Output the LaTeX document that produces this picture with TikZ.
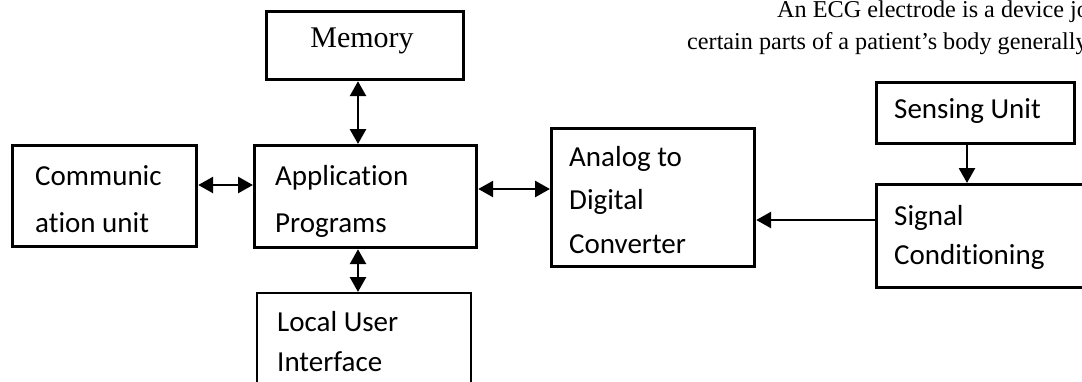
\documentclass[tikz,border=0pt]{standalone}
\usepackage{fontspec}
\setmainfont{Liberation Serif}
\newfontfamily\calib[Ligatures=NoCommon]{Carlito}
\usetikzlibrary{arrows.meta}
\tikzset{
  box/.style={draw, line width=3.2pt, inner sep=0pt, anchor=north west},
  thinbox/.style={draw, line width=2.2pt, inner sep=0pt, anchor=north west},
  lbl/.style={anchor=base west, inner sep=0pt, font=\calib\fontsize{29}{35}\selectfont},
  serif/.style={anchor=base west, inner sep=0pt, font=\fontsize{24.2}{30}\selectfont},
  conn/.style={line width=2.8pt, {Triangle[length=15pt,width=16pt]}-{Triangle[length=15pt,width=16pt]}},
  oneway/.style={line width=2.8pt, -{Triangle[length=15pt,width=16pt]}}
}
\begin{document}
\begin{tikzpicture}[x=1pt,y=-1pt]
\useasboundingbox (0,0) rectangle (1082,381);
\clip (0,0) rectangle (1082,381);
\fill[white] (0,0) rectangle (1082,381);
% boxes
\node[box, minimum width=197pt, minimum height=68pt] (mem) at (265,10) {};
\node[box, minimum width=184pt, minimum height=101pt] (com) at (11,144) {};
\node[box, minimum width=222pt, minimum height=102pt] (app) at (253,144) {};
\node[box, minimum width=203pt, minimum height=138pt] (adc) at (550,127) {};
\node[box, minimum width=198pt, minimum height=61pt] (sen) at (875,81) {};
\node[box, minimum width=260pt, minimum height=103pt] (sig) at (875,183) {};
\node[thinbox, minimum width=214pt, minimum height=130pt] (lui) at (256,292) {};
% texts
\node[anchor=base, inner sep=0pt, font=\fontsize{30}{36}\selectfont] (memt) at (362,47) {Memory};
\node[lbl] (comt1) at (35,185) {Communic};
\node[lbl] (comt2) at (35,232) {ation unit};
\node[lbl] (appt1) at (275,185) {Application};
\node[lbl] (appt2) at (275,232) {Programs};
\node[lbl] (adct1) at (569,166) {Analog to};
\node[lbl] (adct2) at (569,209) {Digital};
\node[lbl] (adct3) at (569,253) {Converter};
\node[lbl] (sent) at (894,118) {Sensing Unit};
\node[lbl] (sigt1) at (894,225) {Signal};
\node[lbl] (sigt2) at (894,264) {Conditioning};
\node[lbl] (luit1) at (277,331) {Local User};
\node[lbl] (luit2) at (277,371) {Interface};
\node[serif] (top1) at (777,17) {An ECG electrode is a device jo};
\node[serif] (top2) at (687,49) {certain parts of a patient’s body generally};
% connectors
\draw[conn] (mem.south -| 358,0) -- (app.north -| 358,0);
\draw[conn] (com.east |- 0,185) -- (app.west |- 0,185);
\draw[conn] (app.east |- 0,189) -- (adc.west |- 0,189);
\draw[conn] (app.south -| 358,0) -- (lui.north -| 358,0);
\draw[oneway] (sen.south -| 967,0) -- (sig.north -| 967,0);
\draw[oneway] (sig.west |- 0,220) -- (adc.east |- 0,220);
\end{tikzpicture}
\end{document}
